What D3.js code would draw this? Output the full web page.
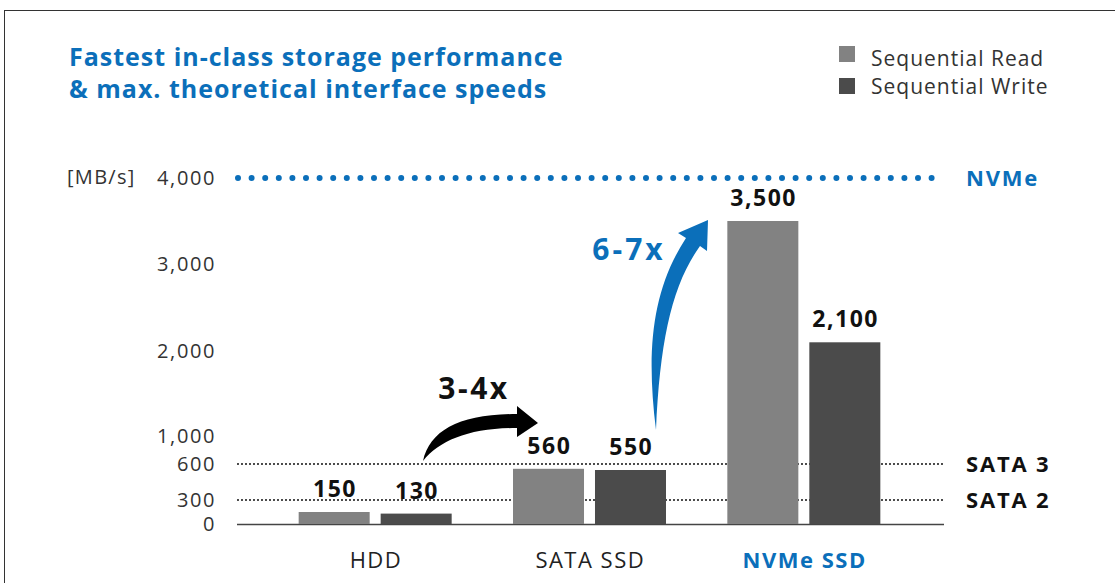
<!DOCTYPE html>
<html>
<head>
<meta charset="utf-8">
<script src="https://cdn.jsdelivr.net/npm/d3@7"></script>
<style>
  body { margin: 0; background: #fff; }
  svg { display: block; font-family: "Open Sans", sans-serif; }
</style>
</head>
<body>
<svg id="chart" width="1115" height="583"></svg>
<script>
// data
const categories = ["HDD", "SATA SSD", "NVMe SSD"];
const seriesNames = ["Sequential Read", "Sequential Write"];
const readValues = [150, 560, 3500];
const writeValues = [130, 550, 2100];
const tickValues = [0, 300, 600, 1000, 2000, 3000, 4000];
const tickLabels = ["0", "300", "600", "1,000", "2,000", "3,000", "4,000"];
const refLines = [
  { name: "NVMe", value: 4000 },
  { name: "SATA 3", value: 600 },
  { name: "SATA 2", value: 300 }
];

const blue = "#0b6fba";
const colors = ["#828282", "#4b4b4b"];

const svg = d3.select("#chart");

// frame
svg.append("rect")
  .attr("x", 4.5).attr("y", 10.5)
  .attr("width", 1200).attr("height", 700)
  .attr("fill", "none").attr("stroke", "#333").attr("stroke-width", 1);

// title
const title = svg.append("text")
  .attr("x", 69).attr("y", 66)
  .attr("fill", blue)
  .style("font-size", "25px")
  .style("font-weight", 700)
  .style("letter-spacing", "1px");
title.append("tspan").attr("x", 69).text("Fastest in-class storage performance");
title.append("tspan").attr("x", 69).attr("dy", 32).text("& max. theoretical interface speeds");

// legend
const legend = svg.append("g");
seriesNames.forEach((s, i) => {
  legend.append("rect")
    .attr("x", 839).attr("y", 46 + i * 32)
    .attr("width", 16).attr("height", 16)
    .attr("fill", colors[i]);
  legend.append("text")
    .attr("x", 871).attr("y", 66 + i * 28)
    .attr("fill", "#333")
    .style("font-size", "21px")
    .style("letter-spacing", "1px")
    .text(s);
});

// scales (piecewise y, as in the original drawing)
const y = d3.scaleLinear()
  .domain(tickValues)
  .range([524, 500, 464, 436, 351, 264, 178]);

const x0 = d3.scalePoint()
  .domain(categories)
  .range([268, 911])
  .padding(0.5);

const x1 = d3.scaleBand()
  .domain(seriesNames)
  .range([-76.5, 76.5])
  .paddingInner(0.134);

// y axis labels
const yAxis = svg.append("g")
  .attr("transform", "translate(216,0)")
  .call(d3.axisLeft(y).tickValues(tickValues).tickSize(0).tickPadding(0)
    .tickFormat((d, i) => tickLabels[i]));
yAxis.select(".domain").remove();
yAxis.selectAll("text")
  .attr("fill", "#333")
  .style("font-family", "'Open Sans', sans-serif")
  .style("font-size", "20px")
  .style("letter-spacing", "1.6px");

svg.append("text")
  .attr("x", 67).attr("y", y(4000))
  .attr("dy", "0.32em")
  .attr("fill", "#333")
  .style("font-size", "20px")
  .style("letter-spacing", "1.3px")
  .text("[MB/s]");

// reference lines
const lineX0 = 238, lineX1 = 945;
refLines.forEach(r => {
  const isNvme = r.name === "NVMe";
  svg.append("line")
    .attr("x1", lineX0).attr("x2", lineX1)
    .attr("y1", y(r.value)).attr("y2", y(r.value))
    .attr("stroke", isNvme ? blue : "#111")
    .attr("stroke-width", isNvme ? 6 : 2)
    .attr("stroke-linecap", "round")
    .attr("stroke-dasharray", isNvme ? "0,13.6" : "0,4");
  svg.append("text")
    .attr("x", 966).attr("y", y(r.value))
    .attr("dy", "0.36em")
    .attr("fill", isNvme ? blue : "#111")
    .style("font-size", "22px")
    .style("font-weight", 700)
    .style("letter-spacing", "1.8px")
    .text(r.name);
});

// baseline
svg.append("line")
  .attr("x1", 237).attr("x2", 944)
  .attr("y1", y(0) + 0.5).attr("y2", y(0) + 0.5)
  .attr("stroke", "#444").attr("stroke-width", 1.5);

// bars
const rows = categories.map((c, i) => ({
  category: c,
  values: [readValues[i], writeValues[i]]
}));

const groups = svg.selectAll("g.cat")
  .data(rows)
  .enter()
  .append("g")
  .attr("class", "cat")
  .attr("transform", d => "translate(" + x0(d.category) + ",0)");

groups.selectAll("rect")
  .data(d => d.values.map((v, i) => ({ series: seriesNames[i], value: v, i })))
  .enter()
  .append("rect")
  .attr("x", d => x1(d.series))
  .attr("y", d => y(d.value))
  .attr("width", x1.bandwidth())
  .attr("height", d => y(0) - y(d.value))
  .attr("fill", d => colors[d.i]);

groups.selectAll("text.val")
  .data(d => d.values.map((v, i) => ({ series: seriesNames[i], value: v })))
  .enter()
  .append("text")
  .attr("class", "val")
  .attr("x", d => x1(d.series) + x1.bandwidth() / 2 + 0.8)
  .attr("y", d => y(d.value) - 15)
  .attr("text-anchor", "middle")
  .attr("fill", "#111")
  .style("font-size", "23px")
  .style("font-weight", 700)
  .style("letter-spacing", "1.5px")
  .text(d => d3.format(",")(d.value));

// category labels
svg.selectAll("text.cat")
  .data(categories)
  .enter()
  .append("text")
  .attr("class", "cat")
  .attr("x", d => x0(d) + 0.8)
  .attr("y", 568)
  .attr("text-anchor", "middle")
  .attr("fill", d => d === "NVMe SSD" ? blue : "#222")
  .style("font-size", "22px")
  .style("font-weight", d => d === "NVMe SSD" ? 700 : 400)
  .style("letter-spacing", "1.5px")
  .text(d => d);

// annotation arrows
svg.append("path")
  .attr("d", "M423,461 C430,430 460,414 517,414 L517,406 L538,423 L517,437 L517,428 C470,428 440,440 423,461 Z")
  .attr("fill", "#000");
svg.append("text")
  .attr("x", 474).attr("y", 399)
  .attr("text-anchor", "middle")
  .attr("fill", "#111")
  .style("font-size", "30px")
  .style("font-weight", 700)
  .style("letter-spacing", "2.5px")
  .text("3-4x");

svg.append("path")
  .attr("d", "M656,430 C646,350 652,290 686,238 L678,233 L708,220 L707,251 L700,246 C672,285 660,340 656,430 Z")
  .attr("fill", blue);
svg.append("text")
  .attr("x", 629).attr("y", 260)
  .attr("text-anchor", "middle")
  .attr("fill", blue)
  .style("font-size", "30px")
  .style("font-weight", 700)
  .style("letter-spacing", "3px")
  .text("6-7x");
</script>
</body>
</html>
